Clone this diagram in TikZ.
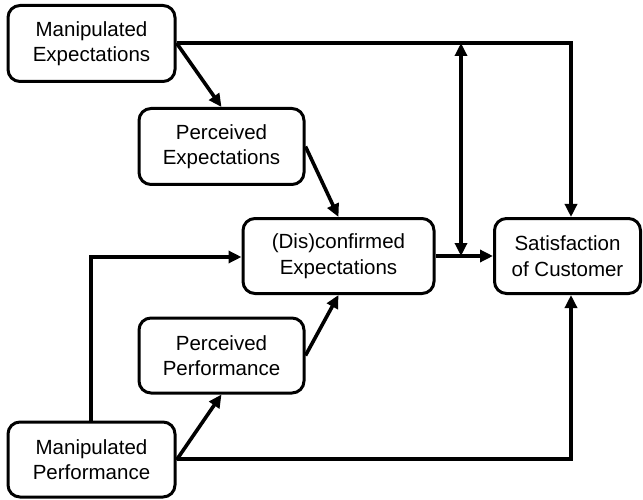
\documentclass[tikz,border=0pt]{standalone}
\usepackage{fontspec}
\setmainfont{Liberation Sans}
\usetikzlibrary{arrows.meta}
\begin{document}
\begin{tikzpicture}[x=1pt,y=-1pt,
  box/.style={draw, line width=3pt, rounded corners=12pt, align=center,
    inner sep=0pt, font=\fontsize{20.5}{25.5}\selectfont},
  link/.style={line width=3.6pt, -{Triangle[length=13pt,width=12pt]}}]
\useasboundingbox (0,0) rectangle (643,500);
% boxes
\node[box, minimum width=167pt, minimum height=76pt] (me) at (91.5,43.5) {Manipulated\\Expectations};
\node[box, minimum width=165pt, minimum height=76pt] (pe) at (221.5,146.5) {Perceived\\Expectations};
\node[box, minimum width=191pt, minimum height=75pt] (de) at (338.5,256) {(Dis)confirmed\\Expectations};
\node[box, minimum width=146pt, minimum height=75pt] (sat) at (567.5,256) {Satisfaction\\of Customer};
\node[box, minimum width=165pt, minimum height=75pt] (pp) at (221.5,355.5) {Perceived\\Performance};
\node[box, minimum width=167pt, minimum height=75pt] (mp) at (91.5,459.5) {Manipulated\\Performance};
% junction points
\coordinate (topj) at (461,43);
\coordinate (midj) at (461,256);
\coordinate (tr) at (571,43);
\coordinate (br) at (571,459);
\coordinate (ml) at (91,257);
% connectors
\draw[link] (me.east |- 0,43) -- (tr) -- (tr |- sat.north);
\draw[link] (me.east |- 0,43) -- (pe.north);
\draw[link] (pe.east) -- (de.north);
\draw[line width=3.6pt, {Triangle[length=13pt,width=12pt]}-{Triangle[length=13pt,width=12pt]}] (topj) -- (midj);
\draw[link] (de.east) -- (sat.west);
\draw[link] (mp.north -| ml) -- (ml) -- (de.west |- ml);
\draw[link] (mp.east |- 0,460) -- (pp.south);
\draw[link] (pp.east) -- (de.south);
\draw[link] (mp.east |- 0,459) -- (br) -- (br |- sat.south);
\end{tikzpicture}
\end{document}
